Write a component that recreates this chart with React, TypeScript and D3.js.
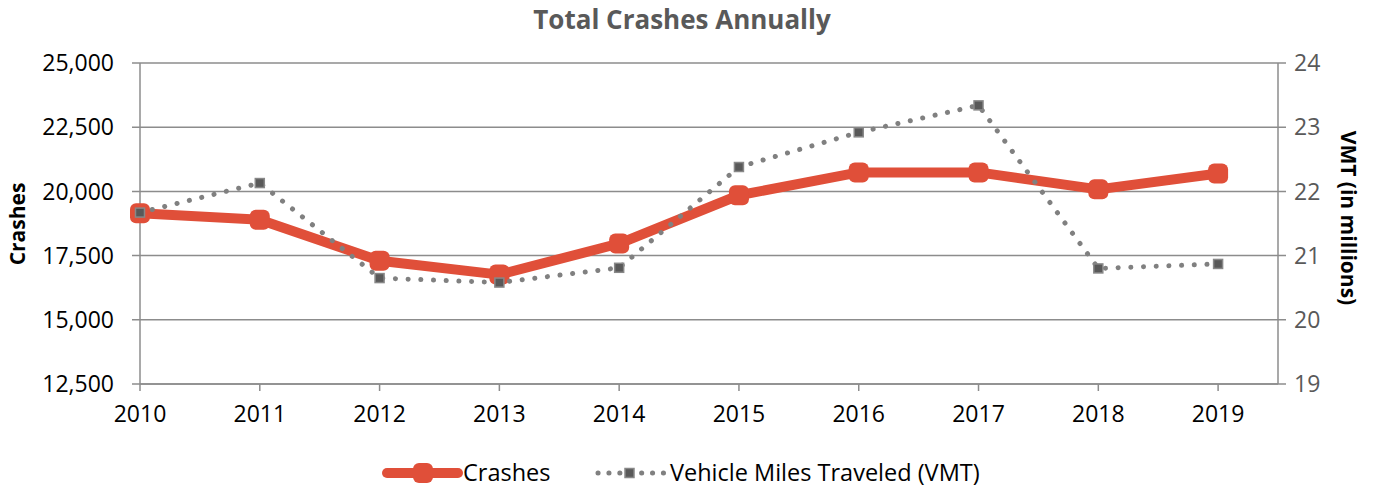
import React from 'react';
import * as d3 from 'd3';

const years = [2010, 2011, 2012, 2013, 2014, 2015, 2016, 2017, 2018, 2019];
const crashes = [19150, 18900, 17300, 16760, 17970, 19850, 20740, 20740, 20080, 20700];
const vmt = [21.67, 22.13, 20.65, 20.58, 20.81, 22.38, 22.92, 23.34, 20.8, 20.87];
const crashTicks = [12500, 15000, 17500, 20000, 22500, 25000];
const vmtTicks = [19, 20, 21, 22, 23, 24];

const W = 1373;
const H = 489;
const margin = { top: 63, right: 95, bottom: 105, left: 140 };
const RED = '#E04F39';
const GRID = '#8c8c8c';
const FONT = '"Open Sans", sans-serif';

const App = () => {
  const x = d3.scaleLinear().domain([2010, 2019.5]).range([margin.left, W - margin.right]);
  const yL = d3.scaleLinear().domain([12500, 25000]).range([H - margin.bottom, margin.top]);
  const yR = d3.scaleLinear().domain([19, 24]).range([H - margin.bottom, margin.top]);

  const crashLine = d3.line<number>().x((_, i) => x(years[i])).y(d => yL(d));
  const vmtLine = d3.line<number>().x((_, i) => x(years[i])).y(d => yR(d));
  const fmt = d3.format(',');

  const x0 = margin.left;
  const x1 = W - margin.right;
  const yb = H - margin.bottom;

  return (
    <svg width={W} height={H} style={{ position: 'absolute', left: 0, top: 0, background: '#fff' }} fontFamily={FONT}>
      <text x={682} y={29} textAnchor="middle" fontSize={26} fontWeight="bold" fill="#595959">
        Total Crashes Annually
      </text>

      {/* gridlines */}
      {crashTicks.map(t => (
        <line key={t} x1={x0 - 8} x2={x1 + 8} y1={yL(t)} y2={yL(t)} stroke={GRID} strokeWidth={1.5} />
      ))}
      {/* axes */}
      <line x1={x0} x2={x0} y1={margin.top} y2={yb} stroke={GRID} strokeWidth={1.5} />
      <line x1={x1} x2={x1} y1={margin.top} y2={yb} stroke={GRID} strokeWidth={1.5} />
      <line x1={x0} x2={x1} y1={yb} y2={yb} stroke={GRID} strokeWidth={1.5} />
      {years.map(yr => (
        <line key={yr} x1={x(yr)} x2={x(yr)} y1={yb} y2={yb + 7} stroke={GRID} strokeWidth={1.5} />
      ))}

      {crashTicks.map(t => (
        <text key={t} x={x0 - 26} y={yL(t)} dy="0.36em" textAnchor="end" fontSize={23} fill="#000">
          {fmt(t)}
        </text>
      ))}
      {vmtTicks.map(t => (
        <text key={t} x={x1 + 16} y={yR(t)} dy="0.36em" textAnchor="start" fontSize={23} fill="#595959">
          {t}
        </text>
      ))}
      {years.map(yr => (
        <text key={yr} x={x(yr)} y={yb + 38} textAnchor="middle" fontSize={23} fill="#000">
          {yr}
        </text>
      ))}

      <text transform={`translate(25,224) rotate(-90)`} textAnchor="middle" fontSize={21} fontWeight="bold" fill="#000">
        Crashes
      </text>
      <text transform={`translate(1341,218) rotate(90)`} textAnchor="middle" fontSize={21} fontWeight="bold" fill="#000">
        VMT (in millions)
      </text>

      {/* crashes */}
      <path d={crashLine(crashes) || ''} fill="none" stroke={RED} strokeWidth={10} strokeLinejoin="round" />
      {crashes.map((c, i) => (
        <rect key={i} x={x(years[i]) - 10} y={yL(c) - 10} width={20} height={20} rx={6} fill={RED} />
      ))}

      {/* vmt */}
      <path d={vmtLine(vmt) || ''} fill="none" stroke="#808080" strokeWidth={5} strokeDasharray="0.1 12.6" strokeLinecap="round" />
      {vmt.map((v, i) => (
        <rect key={i} x={x(years[i]) - 4.5} y={yR(v) - 4.5} width={9} height={9} fill="#595959" stroke="#888" strokeWidth={1.5} />
      ))}

      {/* legend */}
      <line x1={387} x2={458} y1={473} y2={473} stroke={RED} strokeWidth={10} strokeLinecap="round" />
      <rect x={413} y={463} width={20} height={20} rx={6} fill={RED} />
      <text x={463} y={473} dy="0.36em" fontSize={23.5} fill="#000">Crashes</text>

      <line x1={598} x2={664} y1={473} y2={473} stroke="#808080" strokeWidth={5} strokeDasharray="0.1 10.8" strokeLinecap="round" />
      <rect x={625} y={468.5} width={9} height={9} fill="#595959" stroke="#888" strokeWidth={1.5} />
      <text x={670} y={473} dy="0.36em" fontSize={23.5} fill="#000">Vehicle Miles Traveled (VMT)</text>
    </svg>
  );
};

export default App;
